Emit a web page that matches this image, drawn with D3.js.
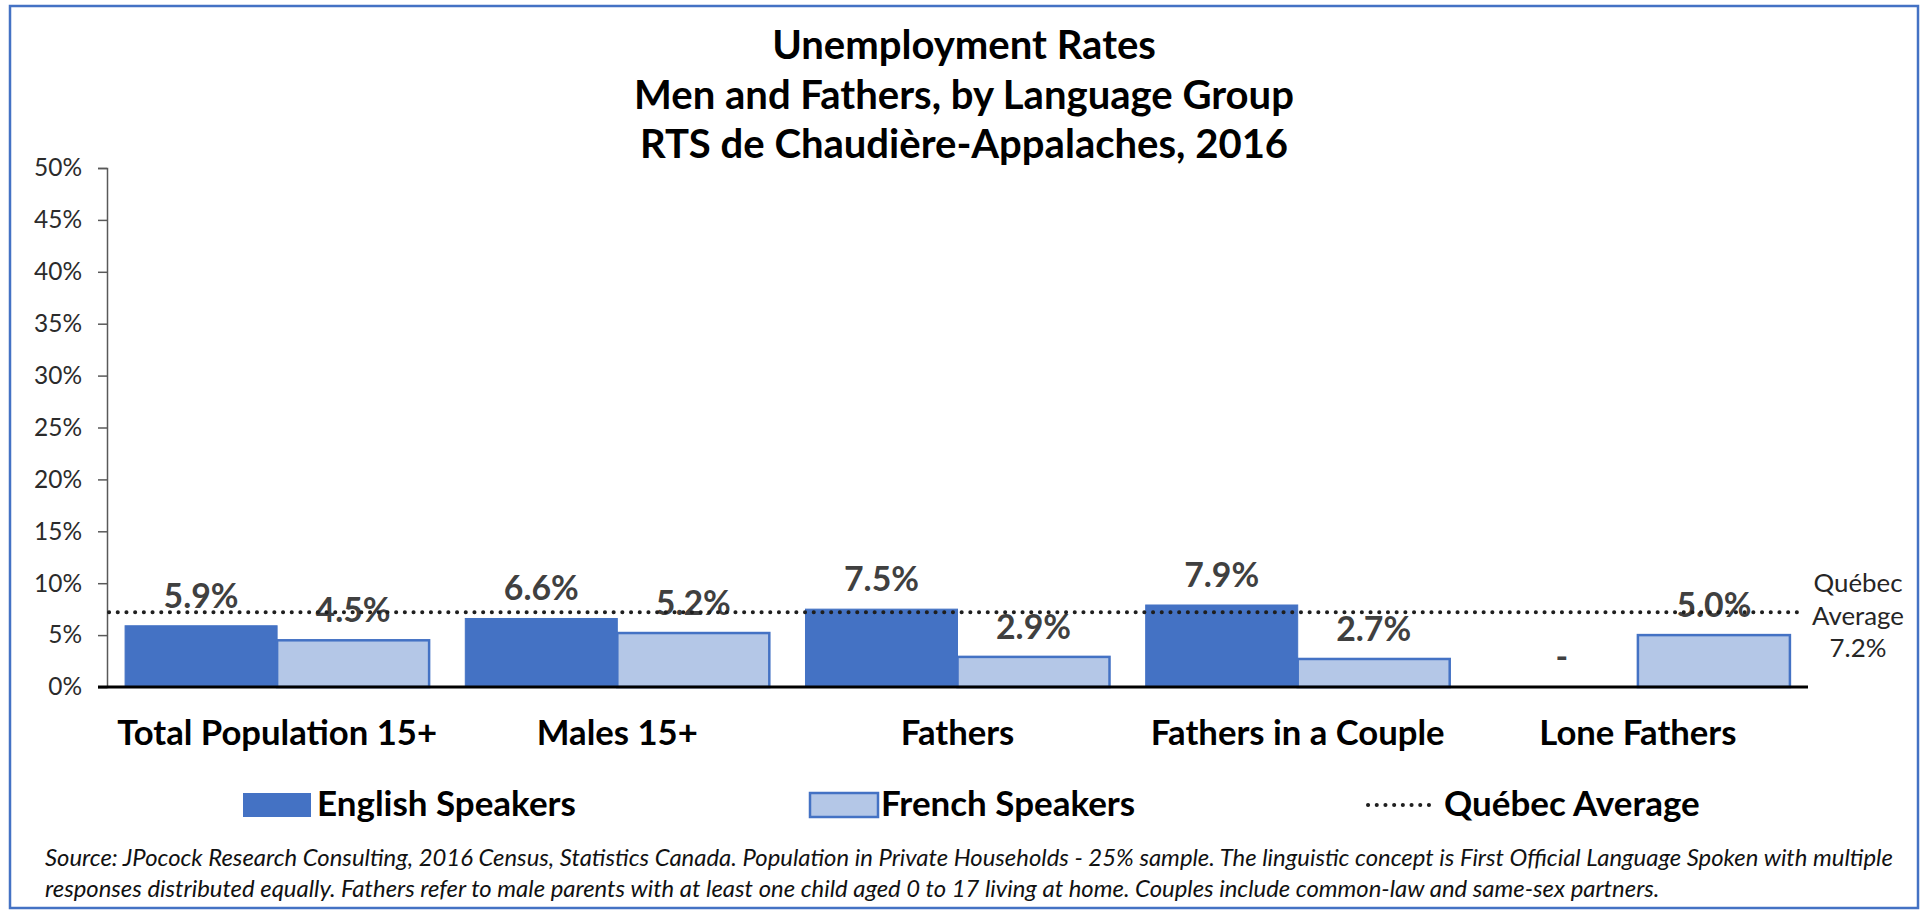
<!DOCTYPE html>
<html>
<head>
<meta charset="utf-8">
<script src="https://cdnjs.cloudflare.com/ajax/libs/d3/7.8.5/d3.min.js"></script>
<style>
  html, body { margin: 0; padding: 0; background: #fff; }
  svg { display: block; font-family: Lato, "Open Sans", sans-serif; }
</style>
</head>
<body>
<svg id="chart"></svg>
<script>
// Data
var categories = ["Total Population 15+", "Males 15+", "Fathers", "Fathers in a Couple", "Lone Fathers"];
var seriesNames = ["English Speakers", "French Speakers"];
var english = [5.9, 6.6, 7.5, 7.9, null];
var french  = [4.5, 5.2, 2.9, 2.7, 5.0];
var quebecAverage = 7.2;
var yTicks = [0, 5, 10, 15, 20, 25, 30, 35, 40, 45, 50];
var titleLines = ["Unemployment Rates", "Men and Fathers, by Language Group", "RTS de Chaudière-Appalaches, 2016"];
var avgLabel = ["Québec", "Average", "7.2%"];
var footnote = [
  "Source: JPocock Research Consulting, 2016 Census, Statistics Canada. Population in Private Households - 25% sample. The linguistic concept is First Official Language Spoken with multiple",
  "responses distributed equally. Fathers refer to male parents with at least one child aged 0 to 17 living at home. Couples include common-law and same-sex partners."
];

var W = 1925, H = 914;
var plot = { left: 107, right: 1808, top: 168, bottom: 687 };
var colors = { english: "#4472C4", french: "#B4C7E7" };

var svg = d3.select("#chart").attr("width", W).attr("height", H);

// scale a font so that a text gets a given width
function fitSize(sel, target) {
  var len = sel.node().getComputedTextLength();
  var fs = parseFloat(sel.attr("font-size"));
  return fs * target / len;
}

// outer frame
svg.append("rect")
  .attr("x", 10).attr("y", 6)
  .attr("width", 1908).attr("height", 902)
  .attr("fill", "none")
  .attr("stroke", "#4472C4")
  .attr("stroke-width", 2.5);

// Scales
var x0 = d3.scaleBand().domain(categories).range([plot.left, plot.right]).padding(0);
var x1 = d3.scaleBand().domain(seriesNames).range([0, x0.bandwidth()])
  .paddingInner(0).paddingOuter(0.119);
var y = d3.scaleLinear().domain([0, 50]).range([plot.bottom, plot.top]);

// Title
var title = svg.append("g").attr("font-weight", "bold").attr("text-anchor", "middle").attr("fill", "#000");
var titleText = title.selectAll("text").data(titleLines).enter().append("text")
  .attr("x", 964)
  .attr("y", (d, i) => 59 + i * 49.5)
  .attr("font-size", 40)
  .text(d => d);
var ts = fitSize(d3.select(titleText.nodes()[1]), 660);
titleText.attr("font-size", ts);

// Y axis
var yAxisG = svg.append("g")
  .attr("transform", "translate(" + plot.left + ",0)")
  .call(d3.axisLeft(y).tickValues(yTicks).tickFormat(d => d + "%").tickSize(9).tickPadding(16));
yAxisG.select(".domain").attr("stroke", "#595959").attr("stroke-width", 1.5);
yAxisG.selectAll(".tick line").attr("stroke", "#595959").attr("stroke-width", 1.5);
yAxisG.selectAll(".tick text")
  .attr("fill", "#2b2b2b")
  .attr("font-family", "Lato, sans-serif")
  .attr("font-size", 26);
var tickSize = fitSize(yAxisG.selectAll(".tick text").filter(d => d === 15), 48);
yAxisG.selectAll(".tick text").attr("font-size", tickSize);

// Bars
var rows = categories.map((c, i) => ({ cat: c, values: [
  { series: seriesNames[0], value: english[i], key: "english" },
  { series: seriesNames[1], value: french[i], key: "french" }
]}));

var groups = svg.append("g").selectAll("g").data(rows).enter().append("g")
  .attr("transform", d => "translate(" + x0(d.cat) + ",0)");

groups.selectAll("rect")
  .data(d => d.values.filter(v => v.value != null))
  .enter().append("rect")
  .attr("x", d => x1(d.series))
  .attr("y", d => y(d.value))
  .attr("width", x1.bandwidth())
  .attr("height", d => y(0) - y(d.value))
  .attr("fill", d => colors[d.key])
  .attr("stroke", "#4472C4")
  .attr("stroke-width", d => d.key === "french" ? 2.5 : 1);

// Québec average line
svg.append("line")
  .attr("x1", plot.left + 2).attr("x2", 1800)
  .attr("y1", y(quebecAverage)).attr("y2", y(quebecAverage))
  .attr("stroke", "#1f1f1f")
  .attr("stroke-width", 4)
  .attr("stroke-linecap", "round")
  .attr("stroke-dasharray", "0.1 8.6");

// Baseline
svg.append("line")
  .attr("x1", plot.left - 9).attr("x2", plot.right)
  .attr("y1", y(0)).attr("y2", y(0))
  .attr("stroke", "#000").attr("stroke-width", 3);

// Value labels (with a faint white box, as in the original)
var labelLayer = groups.append("g");
var valueLabels = labelLayer.selectAll("text.val")
  .data(d => d.values)
  .enter().append("text")
  .attr("class", "val")
  .attr("x", d => x1(d.series) + x1.bandwidth() / 2)
  .attr("y", d => y(d.value == null ? 0 : d.value) - 18)
  .attr("text-anchor", "middle")
  .attr("font-weight", "bold")
  .attr("fill", "#404040")
  .attr("font-size", 34)
  .text(d => d.value == null ? "-" : d.value.toFixed(1) + "%");
var vs = fitSize(d3.select(valueLabels.nodes()[0]), 75);
valueLabels.attr("font-size", vs);
valueLabels.each(function() {
  var b = this.getBBox();
  d3.select(this.parentNode).insert("rect", "text")
    .attr("x", b.x - 3).attr("y", b.y)
    .attr("width", b.width + 6).attr("height", b.height)
    .attr("fill", "#fff").attr("fill-opacity", 0.85);
});

// Category labels
var catLabels = svg.append("g").selectAll("text").data(categories).enter().append("text")
  .attr("x", d => x0(d) + x0.bandwidth() / 2)
  .attr("y", 745)
  .attr("text-anchor", "middle")
  .attr("font-weight", "bold")
  .attr("fill", "#000")
  .attr("font-size", 34)
  .text(d => d);
var cs = fitSize(d3.select(catLabels.nodes()[0]), 320);
catLabels.attr("font-size", cs);

// Average annotation
var ann = svg.append("g").selectAll("text").data(avgLabel).enter().append("text")
  .attr("x", 1858)
  .attr("y", (d, i) => 592 + i * 32.5)
  .attr("text-anchor", "middle")
  .attr("fill", "#262626")
  .attr("font-size", 26)
  .text(d => d);
var as = fitSize(d3.select(ann.nodes()[1]), 92);
ann.attr("font-size", as);

// Legend
var legend = svg.append("g");
var legendItems = [
  { label: seriesNames[0], key: "english", sx: 243, tx: 317 },
  { label: seriesNames[1], key: "french", sx: 810, tx: 881 }
];
legend.selectAll("rect").data(legendItems).enter().append("rect")
  .attr("x", d => d.sx).attr("y", 793)
  .attr("width", 68).attr("height", 24)
  .attr("fill", d => colors[d.key])
  .attr("stroke", "#4472C4")
  .attr("stroke-width", d => d.key === "french" ? 2.5 : 0);
legend.append("line")
  .attr("x1", 1368).attr("x2", 1434)
  .attr("y1", 805).attr("y2", 805)
  .attr("stroke", "#1f1f1f")
  .attr("stroke-width", 4)
  .attr("stroke-linecap", "round")
  .attr("stroke-dasharray", "0.1 8.6");
var legendText = legend.selectAll("text")
  .data(legendItems.map(d => ({ label: d.label, tx: d.tx })).concat([{ label: "Québec Average", tx: 1444 }]))
  .enter().append("text")
  .attr("x", d => d.tx)
  .attr("y", 816)
  .attr("font-weight", "bold")
  .attr("fill", "#000")
  .attr("font-size", 34)
  .text(d => d.label);
var ls = fitSize(d3.select(legendText.nodes()[0]), 259);
legendText.attr("font-size", ls);

// Footnote
var foot = svg.append("g").selectAll("text").data(footnote).enter().append("text")
  .attr("x", 45)
  .attr("y", (d, i) => 866 + i * 31)
  .attr("font-style", "italic")
  .attr("fill", "#111")
  .attr("font-size", 20)
  .text(d => d);
var fs = fitSize(d3.select(foot.nodes()[0]), 1848);
foot.attr("font-size", fs);
</script>
</body>
</html>
